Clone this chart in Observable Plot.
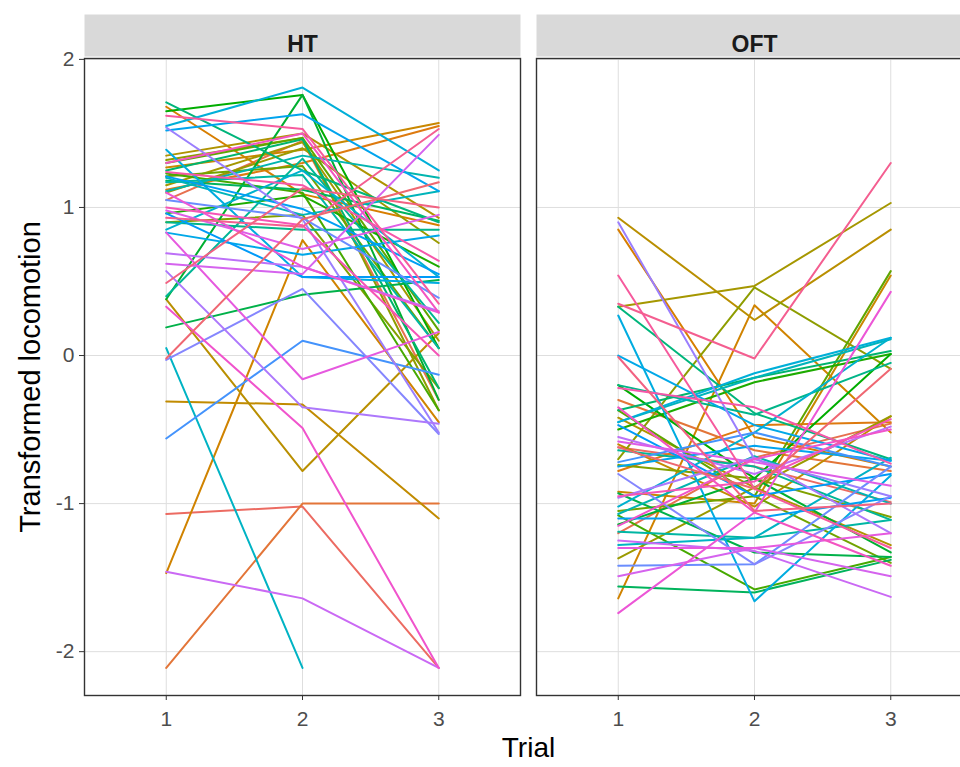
<!DOCTYPE html>
<html><head><meta charset="utf-8">
<script src="https://cdn.jsdelivr.net/npm/d3@7"></script>
<script src="https://cdn.jsdelivr.net/npm/@observablehq/plot@0.6"></script>
<style>
html,body{margin:0;padding:0;background:#fff;overflow:hidden;}
#chart{width:960px;height:767px;overflow:hidden;}
#chart svg{max-width:none !important;}
</style></head><body><div id="chart"></div>
<script>
// ---- data ----
const tests = ["HT", "OFT"];
const trials = [1, 2, 3];
const yTicks = [-2, -1, 0, 1, 2];
const subjects = Array.from({length: 56}, (_, i) => "S" + String(i + 1).padStart(2, "0"));

const ht1 = [-1.07, 1.05, -2.11, 1.12, 1.68, -1.47, 1.27, -0.31, 0.38, 1.35,
             1.15, 1.10, 1.32, 0.90, 1.21, 1.30, 1.23, 0.96, 1.65, 0.38,
             0.19, 1.18, 1.25, 1.71, 0.90, 0.40, 1.17, 1.11, 1.20, 0.05,
             0.85, 1.55, 1.39, 0.83, 1.52, 1.21, 0.96, -0.56, 1.05, -0.03,
             1.54, 0.57, 0.69, -1.46, 0.62, 0.98, 0.83, 1.10, 0.33, 1.30,
             1.00, 1.24, 1.62, 0.93, 0.49, -0.02];
const ht2 = [-1.02, 1.45, -1.00, 1.30, 1.09, 0.78, 1.39, -0.33, -0.78, 1.50,
             1.44, 1.40, 1.47, 0.95, 1.28, 1.47, 1.10, 1.08, 1.76, 1.76,
             0.41, 1.12, 1.46, 1.25, 0.85, 1.33, 1.22, 1.35, 0.95, -2.11,
             1.25, 1.81, 0.53, 0.68, 1.63, 0.99, 0.53, 0.10, 0.93, 0.45,
             0.92, -0.35, 0.60, -1.64, 0.55, 0.72, -0.16, 0.60, -0.49, 1.50,
             0.88, 1.15, 1.53, 0.87, 1.13, 0.92];
const ht3 = [-2.11, -0.30, -1.00, 1.55, 0.88, -0.45, 1.57, -1.10, 0.15, 0.93,
             0.10, 0.76, -0.37, -0.22, 0.05, 0.17, -0.37, 0.60, 0.05, -0.30,
             0.51, 0.91, -0.22, 0.90, 0.85, 0.22, 0.05, 1.20, 1.11, null,
             0.53, 1.25, 0.49, 0.81, 1.11, 0.55, 0.53, -0.13, 0.39, -0.53,
             -0.52, -0.46, 0.30, -2.11, 1.49, 0.95, 0.16, 0.29, -2.11, 0.29,
             0.00, 0.64, 0.35, 1.53, 1.00, 1.17];

const oft1 = [-0.62, -1.20, -0.30, -0.78, 0.85, -1.64, -0.92, -0.60, 0.93, -0.42,
              0.33, -1.37, -0.70, -0.74, -1.05, -0.37, -1.08, -0.50, -0.20, -1.14,
              -0.93, -1.56, -0.37, 0.33, -0.20, -0.64, -1.19, -1.07, -0.45, -1.28,
              -1.02, -0.45, 0.27, 0.00, -0.75, -1.10, -0.47, -0.72, -1.42, -0.80,
              0.90, -0.96, -0.55, -1.25, -1.49, -0.58, -1.30, -1.74, -1.15, -0.35,
              -0.95, -0.22, 0.54, 0.35, -0.01, -0.62];
const oft2 = [-0.75, -0.69, -0.64, -0.47, -0.55, 0.34, -1.00, -1.02, 0.24, -0.89,
              0.47, -0.89, 0.46, -0.83, -0.95, -0.95, -1.58, -0.18, -0.83, -0.83,
              -1.33, -1.60, -0.15, -0.39, -0.40, -0.75, -1.23, -0.68, -0.15, -1.23,
              -0.52, -0.12, -1.66, -0.47, -0.61, -1.10, -0.95, -0.52, -1.41, -1.41,
              -0.70, -0.69, -0.80, -1.32, -1.30, -0.72, -1.30, -1.06, -0.70, -1.06,
              -0.85, -0.35, -0.90, -0.02, -1.05, -0.90];
const oft3 = [-0.99, -0.46, -0.78, -0.45, -0.75, -0.52, 0.54, -0.41, 0.85, -1.28,
              1.03, -0.41, -0.09, -1.09, -1.40, 0.57, -1.36, 0.01, 0.01, -1.33,
              -1.36, -1.38, 0.03, -0.70, -0.05, -1.11, -1.11, -1.00, 0.11, -0.69,
              0.12, 0.12, -0.81, -0.71, -0.71, -0.96, -0.80, -0.75, -0.75, -0.95,
              -0.95, -1.20, -0.48, -1.63, -1.49, -0.88, -1.20, 0.43, -0.50, -1.42,
              -0.43, -0.73, -1.30, 1.30, -1.00, -0.09];

// ---- ggplot-like hue palette (polar LUV) ----
function hclLuv(h, c, l) {
  const hr = h * Math.PI / 180, u = c * Math.cos(hr), v = c * Math.sin(hr);
  const Xn = 95.047, Yn = 100, Zn = 108.883;
  const den = Xn + 15 * Yn + 3 * Zn, un = 4 * Xn / den, vn = 9 * Yn / den;
  const Y = Yn * (l > 8 ? Math.pow((l + 16) / 116, 3) : l / 903.2963);
  const up = u / (13 * l) + un, vp = v / (13 * l) + vn;
  const X = 9 * Y * up / (4 * vp), Z = -X / 3 - 5 * Y + 3 * Y / vp;
  const x = X / 100, y = Y / 100, z = Z / 100;
  const lin = [3.240479 * x - 1.53715 * y - 0.498535 * z,
               -0.969256 * x + 1.875992 * y + 0.041556 * z,
               0.055648 * x - 0.204043 * y + 1.057311 * z];
  const g = lin.map(t => { t = t <= 0.0031308 ? 12.92 * t : 1.055 * Math.pow(t, 1 / 2.4) - 0.055; return Math.round(Math.max(0, Math.min(1, t)) * 255); });
  return `rgb(${g[0]},${g[1]},${g[2]})`;
}
const palette = subjects.map((_, i) => hclLuv(15 + 360 * i / subjects.length, 100, 61));

// ---- long table ----
const series = {HT: [ht1, ht2, ht3], OFT: [oft1, oft2, oft3]};
const rows = [];
for (const t of tests) subjects.forEach((s, i) => trials.forEach((tr, k) => {
  const v = series[t][k][i];
  if (v != null) rows.push({test: t, subject: s, trial: tr, value: v});
}));

const W = 972, H = 767, mL = 84, mT = 58, mB = 72;
const panelH = H - mT - mB;
const font = "'Liberation Sans', Arial, sans-serif";

const chart = Plot.plot({
  width: W, height: H,
  marginLeft: mL, marginRight: 0, marginTop: mT, marginBottom: mB,
  style: {fontFamily: font, background: "white", overflow: "visible", maxWidth: "none"},
  fx: {domain: tests, paddingInner: 0.0354, paddingOuter: 0, axis: null, label: null},
  x: {domain: [0.4, 3.6], axis: null},
  y: {domain: [-2.296, 2.006], axis: null},
  color: {domain: subjects, range: palette},
  marks: [
    Plot.frame({fill: "#D9D9D9", stroke: null, insetTop: -44, insetBottom: panelH + 2}),
    Plot.text(tests, {fx: d => d, text: d => d, frameAnchor: "top", dy: -23, fontSize: 23, fontWeight: "bold", fill: "#1A1A1A"}),
    Plot.gridX({ticks: trials, stroke: "#DEDEDE", strokeOpacity: 1, strokeWidth: 1}),
    Plot.gridY({ticks: yTicks, stroke: "#DEDEDE", strokeOpacity: 1, strokeWidth: 1}),
    Plot.line(rows, {fx: "test", x: "trial", y: "value", z: "subject", stroke: "subject", strokeWidth: 2}),
    Plot.frame({stroke: "#333333", strokeWidth: 1.4}),
    Plot.axisX({ticks: trials, tickSize: 5, tickPadding: 11, fontSize: 21, label: null, stroke: "#333333", fill: "#4D4D4D", tickFormat: d => String(d)}),
    Plot.axisY({ticks: yTicks, tickSize: 5, tickPadding: 5, fontSize: 21, label: null, stroke: "#333333", fill: "#4D4D4D", tickFormat: d => String(d)}),
    Plot.text([{test: "HT"}], {fx: "test", text: () => "Transformed locomotion", frameAnchor: "left", textAnchor: "middle", dx: -54, rotate: -90, fontSize: 29, fill: "#000"}),
    Plot.text([{test: "HT"}], {fx: "test", text: () => "Trial", frameAnchor: "bottom-right", textAnchor: "middle", dx: 8, dy: 61, fontSize: 28, fill: "#000"})
  ]
});
document.getElementById("chart").append(chart);
</script>
</body></html>
